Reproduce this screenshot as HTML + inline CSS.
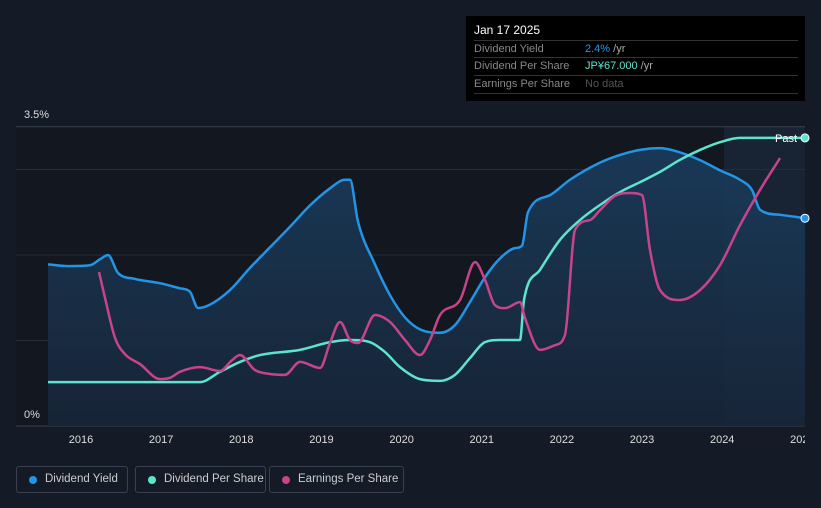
<!DOCTYPE html>
<html><head><meta charset="utf-8"><style>
body{margin:0;background:#151b26;width:821px;height:508px;overflow:hidden;font-family:"Liberation Sans",sans-serif}
#tt{position:absolute;left:466px;top:16px;width:339px;height:85px;background:#000;}
#tt .t{position:absolute;left:8px;top:7px;color:#fff;font-size:12px}
.row{position:absolute;left:8px;width:324px;border-top:1px solid #333;height:17px;font-size:11px;color:#888;line-height:17px;white-space:nowrap}
.row span{position:absolute;left:111px}
.leg{position:absolute;top:466px;height:27px;border:1px solid #3a4050;border-radius:3px;color:#ccc;font-size:11.5px;line-height:25px;padding-left:28px;box-sizing:border-box;white-space:nowrap;overflow:hidden}
.leg i{position:absolute;left:12px;top:9px;width:8px;height:8px;border-radius:50%}
</style></head><body>
<svg id="ch" width="821" height="508" style="position:absolute;left:0;top:0">
<defs><linearGradient id="g" x1="0" y1="0" x2="0" y2="1"><stop offset="0" stop-color="#1a3c5c"/><stop offset="1" stop-color="#172538"/></linearGradient>
<clipPath id="cp"><rect x="0" y="0" width="805" height="508"/></clipPath></defs>
<rect x="16" y="126" width="789" height="300" fill="#121720"/>
<rect x="724" y="126" width="81" height="300" fill="#182434"/>
<g id="grid"></g><g id="marks"></g><g id="xt" clip-path="url(#cp)"></g>
<text x="24" y="118" fill="#ddd" font-size="11">3.5%</text>
<text x="24" y="418" fill="#ddd" font-size="11">0%</text>
<text x="797" y="142" fill="#fff" font-size="11" text-anchor="end">Past</text>
</svg>
<div id="tt">
<div class="t">Jan 17 2025</div>
<div class="row" style="top:24px">Dividend Yield<span><b style="font-weight:normal;color:#2394e6">2.4%</b> <span style="position:static;color:#aaa">/yr</span></span></div>
<div class="row" style="top:41px">Dividend Per Share<span><b style="font-weight:normal;color:#5ee3cc">JP¥67.000</b> <span style="position:static;color:#aaa">/yr</span></span></div>
<div class="row" style="top:59px">Earnings Per Share<span style="color:#555">No data</span></div>
<div class="row" style="top:77px;height:0"></div>
</div>
<div class="leg" style="left:16px;width:112px"><i style="background:#2394e6"></i>Dividend Yield</div>
<div class="leg" style="left:135px;width:131px"><i style="background:#5ee3cc"></i>Dividend Per Share</div>
<div class="leg" style="left:269px;width:135px"><i style="background:#c8448a"></i>Earnings Per Share</div>
<script>
const xTicks=["2016","2017","2018","2019","2020","2021","2022","2023","2024","2025"];
const yGrid=[0,1,2,3,3.5];
const yieldX=[48,70,90,100,108,118,135,160,180,190,198,210,230,250,270,290,310,330,345,350,358,375,390,405,420,440,455,470,485,500,515,522,528,550,570,600,620,640,660,680,700,720,740,752,760,780,805];
const yieldV=[1.89,1.87,1.88,1.95,2.0,1.79,1.72,1.67,1.61,1.57,1.38,1.42,1.59,1.85,2.09,2.33,2.58,2.78,2.88,2.88,2.39,1.89,1.53,1.27,1.13,1.09,1.18,1.45,1.74,1.96,2.08,2.11,2.5,2.7,2.88,3.08,3.17,3.23,3.25,3.2,3.11,2.99,2.88,2.76,2.53,2.47,2.43];
const dpsX=[48,200,220,240,260,300,330,350,370,385,400,420,440,455,470,485,500,520,524,540,560,580,600,620,640,660,680,700,720,740,805];
const dpsV=[10.2,10.2,12.6,14.9,16.5,17.7,19.5,20,19.5,17.2,13.7,10.9,10.5,11.9,15.8,19.5,20,20,29.3,36.3,43.3,47.9,51.4,54.4,56.7,59.1,61.9,64.2,66,67,67];
const epsX=[99,105,115,125,140,160,170,180,200,220,232,240,255,270,285,300,320,330,340,350,358,375,390,405,420,430,440,460,475,485,495,505,520,525,540,555,565,575,590,600,615,630,642,650,660,680,700,720,740,760,780];
const epsV=[35.8,29.8,20.5,16.7,14.4,10.9,11.2,12.6,13.7,12.8,15.3,16.5,13,12.1,11.9,14.9,13.5,19.3,24.2,20,19.3,25.8,24.2,20,16.5,20,25.8,29.3,38.1,34,28.1,27.4,28.8,25.1,17.7,18.8,21.2,45.6,47.9,50.2,53.5,54.2,53.7,40.9,31.6,29.3,31.6,37.4,46.7,54.9,62.3];
const Y0=426,PX=85.5,PY=4.3;
const X=i=>81+i*80.15, yY=v=>Y0-v*PX, yD=v=>Y0-v*PY;
const ns="http://www.w3.org/2000/svg";
function mk(t,a,p){const e=document.createElementNS(ns,t);for(const k in a)e.setAttribute(k,a[k]);document.getElementById(p).appendChild(e);return e;}
function path(xs,vs,f){
  const n=xs.length,ys=vs.map(f),d=[],m=[];
  for(let i=0;i<n-1;i++)d.push((ys[i+1]-ys[i])/(xs[i+1]-xs[i]));
  for(let i=0;i<n;i++){
    if(i==0)m.push(d[0]);else if(i==n-1)m.push(d[n-2]);
    else m.push(d[i-1]*d[i]<=0?0:(d[i-1]+d[i])/2);
  }
  for(let i=0;i<n-1;i++){if(d[i]==0){m[i]=0;m[i+1]=0;continue;}
    const a=m[i]/d[i],b=m[i+1]/d[i],s=a*a+b*b;
    if(s>9){const t=3/Math.sqrt(s);m[i]=t*a*d[i];m[i+1]=t*b*d[i];}}
  let s="M"+xs[0]+","+ys[0];
  for(let i=0;i<n-1;i++){const h=(xs[i+1]-xs[i])/3;
    s+=" C"+(xs[i]+h)+","+(ys[i]+m[i]*h)+" "+(xs[i+1]-h)+","+(ys[i+1]-m[i+1]*h)+" "+xs[i+1]+","+ys[i+1];}
  return s;}
yGrid.forEach(v=>{const l=mk("line",{x1:16,x2:805,y1:yY(v),y2:yY(v),stroke:v==0||v==3.5?"#3a404c":"#262c38","stroke-width":1},"grid");

});
xTicks.forEach((t,i)=>{const e=mk("text",{x:X(i),y:443,fill:"#ddd","font-size":11,"text-anchor":"middle"},"xt");e.textContent=t;

});
const yp=path(yieldX,yieldV,yY);
const area=mk("path",{d:yp+" L805,426 L48,426 Z",fill:"url(#g)","fill-opacity":0.9},"marks");


const l1=mk("path",{d:yp,fill:"none",stroke:"#2394e6","stroke-width":2.5},"marks");


const l2=mk("path",{d:path(dpsX,dpsV,yD),fill:"none",stroke:"#5ee3cc","stroke-width":2.5},"marks");


const l3=mk("path",{d:path(epsX,epsV,yD),fill:"none",stroke:"#c8448a","stroke-width":2.5},"marks");


const c1=mk("circle",{cx:805,cy:yY(yieldV[yieldV.length-1]),r:4,fill:"#2394e6",stroke:"#fff","stroke-width":1},"marks");


const c2=mk("circle",{cx:805,cy:yD(dpsV[dpsV.length-1]),r:4,fill:"#5ee3cc",stroke:"#fff","stroke-width":1},"marks");


</script>
</body></html>
